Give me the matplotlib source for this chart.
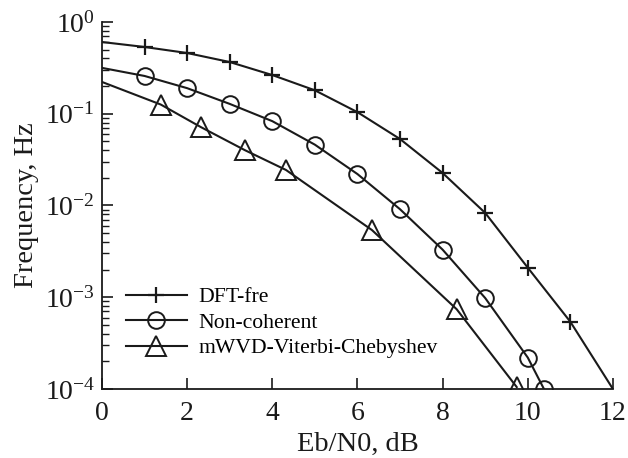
import numpy as np
import matplotlib
matplotlib.use("Agg")
import matplotlib.pyplot as plt
from matplotlib.ticker import LogLocator, LogFormatterMathtext, NullFormatter

plt.rcParams['font.family'] = ['Liberation Serif', 'DejaVu Serif']
plt.rcParams['mathtext.fontset'] = 'stix'

# DFT-fre
dft_x = [0, 1, 2, 3, 4, 5, 6, 7, 8, 9, 10, 11, 12]
dft_y = [0.605, 0.534, 0.459, 0.366, 0.264, 0.18, 0.104, 0.053, 0.0226, 0.0083, 0.0021, 5.4e-4, 1.0e-4]
# Non-coherent
nc_x = [0, 1, 2, 3, 4, 5, 6, 7, 8, 9, 10, 10.38]
nc_y = [0.316, 0.258, 0.19, 0.128, 0.083, 0.046, 0.022, 0.0091, 0.0033, 9.8e-4, 2.2e-4, 1.0e-4]
# mWVD-Viterbi-Chebyshev
mw_x = [0, 1.38, 2.32, 3.36, 4.32, 6.34, 8.33, 9.74]
mw_y = [0.222, 0.126, 0.0716, 0.040, 0.0244, 0.0054, 7.4e-4, 1.05e-4]

labels = ['DFT-fre', 'Non-coherent', 'mWVD-Viterbi-Chebyshev']

fig = plt.figure(figsize=(6.28, 4.58), dpi=100)
ax = fig.add_axes([0.1624, 0.1507, 0.8136, 0.8013])

c = '#1a1a1a'
ax.plot(dft_x, dft_y, color=c, lw=1.5, marker='+', ms=12, mew=1.6,
        markevery=list(range(1, len(dft_x) - 1)), label=labels[0])
ax.plot(nc_x, nc_y, color=c, lw=1.5, marker='o', ms=12, mew=1.4, mfc='none',
        markevery=list(range(1, len(nc_x))), label=labels[1])
ax.plot(mw_x, mw_y, color=c, lw=1.5, marker='^', ms=15, mew=1.4, mfc='none',
        markevery=list(range(1, len(mw_x))), label=labels[2])

ax.set_yscale('log')
ax.set_xlim(0, 12)
ax.set_ylim(1e-4, 1)
ax.set_xticks([0, 2, 4, 6, 8, 10, 12])
ax.yaxis.set_major_locator(LogLocator(base=10, numticks=10))
ax.yaxis.set_major_formatter(LogFormatterMathtext())
ax.yaxis.set_minor_locator(LogLocator(base=10, subs=np.arange(2, 10), numticks=20))
ax.yaxis.set_minor_formatter(NullFormatter())

for s in ['top', 'right']:
    ax.spines[s].set_visible(False)
for s in ['left', 'bottom']:
    ax.spines[s].set_linewidth(1.3)
    ax.spines[s].set_color(c)

ax.tick_params(axis='both', which='major', direction='in', length=8, width=1.2,
               labelsize=20, colors=c, pad=5)
ax.tick_params(axis='x', which='major', pad=9)
ax.tick_params(axis='y', which='minor', direction='in', length=5, width=1.0, colors=c)

ax.set_xlabel('Eb/N0, dB', fontsize=20.5, color=c, labelpad=4)
ax.set_ylabel('Frequency, Hz', fontsize=20.5, color=c, labelpad=4)

leg = ax.legend(loc='lower left', bbox_to_anchor=(0.03, 0.06), frameon=False,
                fontsize=15.6, handlelength=2.8, handletextpad=0.55, labelspacing=0.25,
                borderaxespad=0)

fig.savefig('out.png', dpi=100)
